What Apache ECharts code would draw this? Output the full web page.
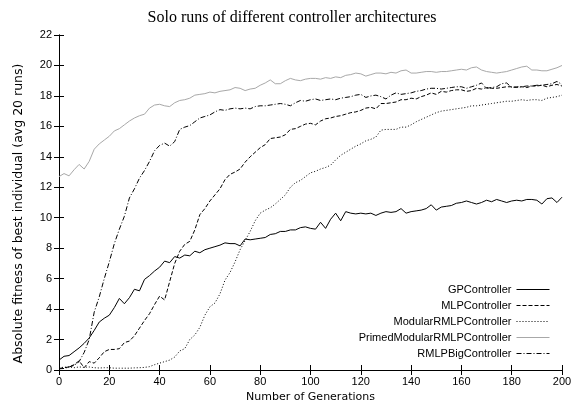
<!DOCTYPE html>
<html><head><meta charset="utf-8">
<script src="https://cdn.jsdelivr.net/npm/echarts@6/dist/echarts.min.js"></script>
<style>html,body{margin:0;padding:0;background:#fff}#c{width:584px;height:408px}</style>
</head><body><div id="c"></div>
<script>
const titleText = "Solo runs of different controller architectures";
const xName = "Number of Generations";
const yName = "Absolute fitness of best individual (avg 20 runs)";
const seriesNames = ["GPController","MLPController","ModularRMLPController","PrimedModularRMLPController","RMLPBigController"];
const generations = [];
for (let g = 0; g <= 200; g += 2) generations.push(g);

const gp = [0.65,0.9,0.95,1.2,1.45,1.75,2.1,2.6,3.15,3.4,3.6,4.1,4.7,4.35,4.75,5.3,5.2,5.95,6.2,6.5,6.75,7.15,7.05,7.45,7.35,7.55,7.5,7.8,7.7,7.9,8.0,8.1,8.2,8.35,8.3,8.3,8.15,8.6,8.55,8.6,8.65,8.7,8.9,8.95,9.1,9.1,9.2,9.2,9.35,9.4,9.3,9.25,9.7,9.3,9.9,10.3,9.8,10.4,10.3,10.25,10.3,10.25,10.3,10.15,10.3,10.4,10.35,10.4,10.6,10.3,10.4,10.45,10.5,10.6,10.85,10.5,10.7,10.75,10.8,10.95,11.0,11.1,11.0,10.9,11.0,11.15,11.05,11.2,11.1,11.0,11.1,11.15,11.1,11.2,11.2,11.15,10.9,11.25,11.3,11.0,11.35];
const mlp = [0.1,0.15,0.2,0.35,0.6,0.15,0.55,0.45,0.8,1.2,1.35,1.35,1.4,1.8,1.9,2.25,2.75,3.25,3.7,4.3,4.85,4.6,5.8,7.0,7.8,8.25,8.45,9.2,10.2,10.6,11.1,11.5,11.9,12.5,12.85,13.0,13.2,13.65,14.0,14.3,14.6,14.8,15.2,15.25,15.3,15.45,15.8,15.85,16.0,16.15,16.2,16.1,16.35,16.5,16.55,16.65,16.7,16.8,16.9,16.95,17.05,17.2,17.25,17.15,17.5,17.5,17.55,17.6,17.75,17.75,17.85,17.8,17.95,18.05,18.2,18.1,18.3,18.25,18.35,18.4,18.4,18.3,18.35,18.5,18.45,18.55,18.5,18.5,18.55,18.6,18.6,18.55,18.6,18.55,18.65,18.65,18.7,18.6,18.7,18.75,18.65];
const modular = [0.15,0.18,0.2,0.15,0.2,0.18,0.2,0.15,0.13,0.15,0.15,0.12,0.12,0.12,0.12,0.14,0.15,0.17,0.22,0.35,0.45,0.55,0.65,0.85,1.25,1.4,2.0,2.3,2.8,3.6,4.15,4.4,5.0,5.9,6.4,7.1,7.9,8.5,9.1,9.8,10.3,10.5,10.65,10.9,11.2,11.5,12.0,12.3,12.45,12.7,12.95,13.05,13.2,13.3,13.45,13.8,14.1,14.3,14.5,14.7,14.85,15.05,15.15,15.3,15.75,15.8,15.8,15.8,15.95,15.95,16.1,16.3,16.45,16.6,16.75,16.9,17.0,17.05,17.1,17.15,17.2,17.25,17.35,17.35,17.4,17.45,17.5,17.55,17.6,17.65,17.65,17.7,17.75,17.7,17.75,17.75,17.7,17.85,17.9,17.95,18.05];
const primed = [12.7,12.9,12.75,13.15,13.5,13.2,13.7,14.5,14.85,15.1,15.35,15.7,15.85,16.1,16.35,16.55,16.7,16.8,17.2,17.4,17.45,17.35,17.3,17.55,17.7,17.75,17.85,18.05,18.1,18.15,18.25,18.2,18.3,18.35,18.4,18.55,18.5,18.35,18.45,18.5,18.7,18.85,19.05,18.8,18.8,19.0,19.15,19.05,19.0,19.1,19.15,19.15,19.1,19.2,19.15,19.25,19.2,19.35,19.4,19.5,19.45,19.3,19.4,19.5,19.5,19.45,19.55,19.5,19.65,19.7,19.5,19.5,19.55,19.6,19.6,19.55,19.6,19.6,19.65,19.7,19.75,19.7,19.85,19.9,19.7,19.6,19.55,19.5,19.55,19.6,19.7,19.8,19.9,19.95,19.7,19.7,19.65,19.65,19.75,19.85,20.0];
const rmlpBig = [0.08,0.1,0.2,0.3,0.55,1.15,2.0,3.8,4.8,6.0,7.1,8.3,9.25,10.1,11.3,11.9,12.6,13.1,13.7,14.4,14.75,14.9,14.7,15.0,15.8,15.95,16.05,16.3,16.55,16.65,16.75,16.95,17.1,17.05,17.15,17.2,17.15,17.2,17.15,17.3,17.35,17.35,17.4,17.45,17.5,17.45,17.35,17.55,17.7,17.65,17.75,17.8,17.7,17.75,17.8,17.75,17.85,17.9,17.95,18.05,18.1,17.9,18.0,18.05,17.95,17.8,18.05,18.2,18.1,18.15,18.2,18.3,18.35,18.45,18.5,18.5,18.45,18.5,18.55,18.6,18.6,18.5,18.6,18.7,18.85,18.5,18.55,18.6,18.8,18.85,18.55,18.6,18.6,18.65,18.65,18.7,18.7,18.75,18.8,18.95,18.75];

const values = [gp, mlp, modular, primed, rmlpBig];
const styles = [
  {color:'#000', type:'solid'},
  {color:'#000', type:[4,2]},
  {color:'#000', type:[1,2]},
  {color:'#a8a8a8', type:'solid'},
  {color:'#000', type:[5,2,1,2]}
];
const font = "'Liberation Sans', Arial, sans-serif";
const wideFont = "'DejaVu Sans', 'Liberation Sans', sans-serif";
const chart = echarts.init(document.getElementById('c'), null, {renderer:'canvas'});
const axisCommon = {
  axisLine:{show:true, lineStyle:{color:'#000', width:1}},
  axisTick:{show:true, inside:true, length:5, lineStyle:{color:'#000'}},
  splitLine:{show:false}
};
chart.setOption({
  animation:false,
  backgroundColor:'#fff',
  title:{text:titleText, left:'center', top:5, textStyle:{fontFamily:"'Liberation Serif', 'Times New Roman', serif", fontWeight:'normal', fontSize:16, color:'#000'}},
  grid:{left:59, right:22, top:35, bottom:37},
  legend:{
    orient:'vertical', align:'right', right:29, top:279, itemWidth:33, itemHeight:12, itemGap:5,
    textStyle:{fontFamily:font, fontSize:11, color:'#000'},
    itemStyle:{color:'rgba(0,0,0,0)', borderColor:'rgba(0,0,0,0)', borderWidth:0},
    lineStyle:{width:1},
    data: seriesNames
  },
  xAxis:[
    Object.assign({type:'value', min:0, max:200, interval:20, name:xName, nameLocation:'middle', nameGap:22,
      nameTextStyle:{fontFamily:wideFont, fontSize:11, color:'#000'},
      axisLabel:{fontFamily:font, fontSize:11, color:'#000', margin:6}}, axisCommon),
    Object.assign({type:'value', min:0, max:200, interval:20, position:'top', axisLabel:{show:false}}, axisCommon)
  ],
  yAxis:[
    Object.assign({type:'value', min:0, max:22, interval:2, name:yName, nameLocation:'middle', nameGap:34,
      nameTextStyle:{fontFamily:wideFont, fontSize:12.5, color:'#000', padding:[0,22,0,0]},
      axisLabel:{fontFamily:font, fontSize:11, color:'#000', margin:7}}, axisCommon),
    Object.assign({type:'value', min:0, max:22, interval:2, position:'right', axisLabel:{show:false}}, axisCommon)
  ],
  series: seriesNames.map((n, i) => ({
    name:n, type:'line', symbol:'none', xAxisIndex:0, yAxisIndex:0,
    data: generations.map((g, j) => [g, values[i][j]]),
    lineStyle:{color:styles[i].color, width:1, type:styles[i].type},
    itemStyle:{color:styles[i].color},
    emphasis:{disabled:true}
  }))
});
</script></body></html>
